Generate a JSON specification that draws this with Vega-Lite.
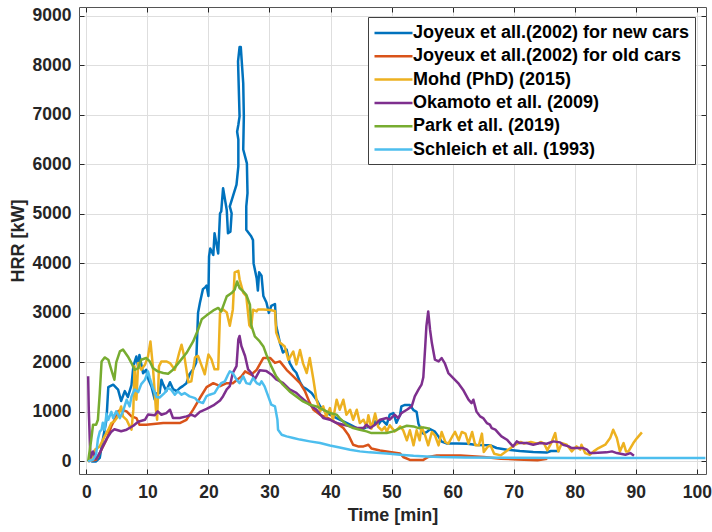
{
"$schema":"https://vega.github.io/schema/vega-lite/v6.json",
"width":627,"height":467,
"autosize":{"type":"none"},
"padding":{"left":79,"top":7,"right":6,"bottom":58},
"background":"white",
"config":{"view":{"stroke":"#555555","strokeWidth":1},"font":"Liberation Sans",
 "axis":{"labelFont":"Liberation Sans","labelFontSize":17.5,"labelFontWeight":"bold","labelColor":"#262626","titleFont":"Liberation Sans","titleFontSize":18,"titleFontWeight":"bold","titleColor":"#262626","gridColor":"#dedede","gridWidth":1,"domain":false,"tickColor":"#262626","tickSize":-5,"tickWidth":1}},
"datasets":{
"series":[{"k":"A","name":"Joyeux et all.(2002) for new cars"},{"k":"B","name":"Joyeux et all.(2002) for old cars"},{"k":"C","name":"Mohd (PhD) (2015)"},{"k":"D","name":"Okamoto et all. (2009)"},{"k":"E","name":"Park et all. (2019)"},{"k":"F","name":"Schleich et all. (1993)"}],
"pts":[
{"k":"A","t":0.8,"v":0},{"k":"A","t":1.6,"v":0},{"k":"A","t":2.2,"v":70},{"k":"A","t":2.7,"v":440},{"k":"A","t":3.0,"v":640},{"k":"A","t":3.3,"v":840},{"k":"A","t":3.6,"v":1500},{"k":"A","t":4.4,"v":1550},{"k":"A","t":5.2,"v":1450},{"k":"A","t":5.7,"v":1220},{"k":"A","t":6.3,"v":1420},{"k":"A","t":6.8,"v":1300},{"k":"A","t":7.4,"v":1540},{"k":"A","t":7.7,"v":1920},{"k":"A","t":8.2,"v":2120},{"k":"A","t":8.5,"v":1900},{"k":"A","t":8.7,"v":2150},{"k":"A","t":9.3,"v":1780},{"k":"A","t":9.8,"v":1850},{"k":"A","t":10.1,"v":1680},{"k":"A","t":10.7,"v":1500},{"k":"A","t":11.2,"v":1250},{"k":"A","t":11.5,"v":1370},{"k":"A","t":12.0,"v":1380},{"k":"A","t":12.3,"v":1650},{"k":"A","t":12.6,"v":1550},{"k":"A","t":13.1,"v":1420},{"k":"A","t":13.7,"v":1600},{"k":"A","t":14.2,"v":1460},{"k":"A","t":14.8,"v":1420},{"k":"A","t":15.3,"v":1480},{"k":"A","t":15.8,"v":1520},{"k":"A","t":16.4,"v":1580},{"k":"A","t":16.9,"v":1760},{"k":"A","t":17.5,"v":1860},{"k":"A","t":18.0,"v":2000},{"k":"A","t":18.3,"v":3000},{"k":"A","t":18.6,"v":3200},{"k":"A","t":19.1,"v":3480},{"k":"A","t":19.5,"v":3520},{"k":"A","t":19.7,"v":3550},{"k":"A","t":20.0,"v":3340},{"k":"A","t":20.1,"v":4140},{"k":"A","t":20.3,"v":4300},{"k":"A","t":20.8,"v":4170},{"k":"A","t":21.0,"v":4610},{"k":"A","t":21.6,"v":4200},{"k":"A","t":21.9,"v":5010},{"k":"A","t":22.1,"v":5050},{"k":"A","t":22.4,"v":5520},{"k":"A","t":23.0,"v":5080},{"k":"A","t":23.2,"v":4610},{"k":"A","t":23.6,"v":4640},{"k":"A","t":23.8,"v":5010},{"k":"A","t":23.5,"v":5150},{"k":"A","t":24.6,"v":5590},{"k":"A","t":24.9,"v":5960},{"k":"A","t":24.9,"v":6500},{"k":"A","t":24.7,"v":6660},{"k":"A","t":24.9,"v":6800},{"k":"A","t":25.1,"v":6970},{"k":"A","t":24.85,"v":8080},{"k":"A","t":25.1,"v":8370},{"k":"A","t":25.3,"v":8370},{"k":"A","t":25.7,"v":7640},{"k":"A","t":25.8,"v":6970},{"k":"A","t":25.7,"v":6300},{"k":"A","t":26.3,"v":6020},{"k":"A","t":26.4,"v":5420},{"k":"A","t":26.2,"v":5150},{"k":"A","t":26.2,"v":4680},{"k":"A","t":27.0,"v":4550},{"k":"A","t":27.3,"v":4470},{"k":"A","t":27.4,"v":4000},{"k":"A","t":27.9,"v":3700},{"k":"A","t":28.1,"v":3450},{"k":"A","t":28.3,"v":3820},{"k":"A","t":28.7,"v":3750},{"k":"A","t":29.0,"v":3340},{"k":"A","t":29.5,"v":3210},{"k":"A","t":29.9,"v":3000},{"k":"A","t":30.3,"v":3140},{"k":"A","t":30.9,"v":3180},{"k":"A","t":31.1,"v":2740},{"k":"A","t":31.7,"v":2400},{"k":"A","t":32.2,"v":2200},{"k":"A","t":32.8,"v":2260},{"k":"A","t":33.3,"v":1990},{"k":"A","t":33.9,"v":1860},{"k":"A","t":34.4,"v":1790},{"k":"A","t":35.0,"v":1600},{"k":"A","t":35.5,"v":1500},{"k":"A","t":36.1,"v":1460},{"k":"A","t":36.9,"v":1380},{"k":"A","t":37.7,"v":1246},{"k":"A","t":38.3,"v":1111},{"k":"A","t":39.1,"v":1010},{"k":"A","t":39.9,"v":943},{"k":"A","t":41.0,"v":875},{"k":"A","t":42.1,"v":808},{"k":"A","t":43.2,"v":741},{"k":"A","t":44.3,"v":673},{"k":"A","t":45.1,"v":640},{"k":"A","t":45.9,"v":690},{"k":"A","t":46.7,"v":700},{"k":"A","t":47.3,"v":808},{"k":"A","t":47.8,"v":741},{"k":"A","t":48.4,"v":842},{"k":"A","t":49.2,"v":741},{"k":"A","t":49.7,"v":943},{"k":"A","t":50.3,"v":976},{"k":"A","t":50.8,"v":780},{"k":"A","t":51.4,"v":943},{"k":"A","t":51.6,"v":1111},{"k":"A","t":52.2,"v":1140},{"k":"A","t":53.0,"v":1140},{"k":"A","t":53.6,"v":1034},{"k":"A","t":54.1,"v":1000},{"k":"A","t":54.4,"v":760},{"k":"A","t":54.9,"v":620},{"k":"A","t":55.2,"v":560},{"k":"A","t":55.8,"v":595},{"k":"A","t":56.3,"v":650},{"k":"A","t":57.1,"v":600},{"k":"A","t":57.7,"v":500},{"k":"A","t":58.2,"v":400},{"k":"A","t":59.1,"v":360},{"k":"A","t":60.7,"v":360},{"k":"A","t":62.4,"v":355},{"k":"A","t":64.0,"v":330},{"k":"A","t":66.2,"v":325},{"k":"A","t":67.2,"v":270},{"k":"A","t":68.9,"v":236},{"k":"A","t":71.0,"v":210},{"k":"A","t":73.2,"v":190},{"k":"A","t":75.4,"v":180},{"k":"A","t":76.1,"v":209},{"k":"A","t":77.5,"v":209},
{"k":"B","t":0.3,"v":0},{"k":"B","t":1.6,"v":30},{"k":"B","t":2.2,"v":170},{"k":"B","t":3.3,"v":440},{"k":"B","t":4.1,"v":710},{"k":"B","t":4.9,"v":910},{"k":"B","t":5.2,"v":1010},{"k":"B","t":5.7,"v":1045},{"k":"B","t":6.6,"v":1010},{"k":"B","t":7.4,"v":910},{"k":"B","t":8.2,"v":875},{"k":"B","t":8.7,"v":740},{"k":"B","t":9.8,"v":740},{"k":"B","t":12.6,"v":775},{"k":"B","t":15.3,"v":775},{"k":"B","t":16.4,"v":840},{"k":"B","t":17.5,"v":1045},{"k":"B","t":18.6,"v":1280},{"k":"B","t":19.7,"v":1500},{"k":"B","t":20.8,"v":1580},{"k":"B","t":21.9,"v":1520},{"k":"B","t":23.0,"v":1580},{"k":"B","t":24.0,"v":1580},{"k":"B","t":25.4,"v":1717},{"k":"B","t":26.0,"v":1818},{"k":"B","t":27.0,"v":1750},{"k":"B","t":27.9,"v":1850},{"k":"B","t":29.0,"v":2090},{"k":"B","t":30.1,"v":2090},{"k":"B","t":30.9,"v":1990},{"k":"B","t":31.7,"v":2020},{"k":"B","t":32.8,"v":1850},{"k":"B","t":33.9,"v":1717},{"k":"B","t":35.0,"v":1580},{"k":"B","t":35.8,"v":1420},{"k":"B","t":36.6,"v":1180},{"k":"B","t":37.2,"v":1045},{"k":"B","t":38.3,"v":940},{"k":"B","t":39.6,"v":875},{"k":"B","t":41.0,"v":775},{"k":"B","t":42.1,"v":675},{"k":"B","t":42.9,"v":540},{"k":"B","t":43.7,"v":337},{"k":"B","t":44.5,"v":303},{"k":"B","t":45.4,"v":303},{"k":"B","t":46.2,"v":337},{"k":"B","t":46.7,"v":260},{"k":"B","t":48.1,"v":220},{"k":"B","t":49.7,"v":190},{"k":"B","t":51.4,"v":160},{"k":"B","t":51.9,"v":88},{"k":"B","t":53.0,"v":30},{"k":"B","t":55.2,"v":30},{"k":"B","t":56.0,"v":88},{"k":"B","t":57.4,"v":120},{"k":"B","t":61.3,"v":120},{"k":"B","t":65.1,"v":88},{"k":"B","t":67.9,"v":54},{"k":"B","t":70.6,"v":40},{"k":"B","t":73.9,"v":25},{"k":"B","t":75.5,"v":54},
{"k":"C","t":0.3,"v":0},{"k":"C","t":1.1,"v":100},{"k":"C","t":1.4,"v":235},{"k":"C","t":2.2,"v":303},{"k":"C","t":3.0,"v":505},{"k":"C","t":3.6,"v":640},{"k":"C","t":4.1,"v":775},{"k":"C","t":4.6,"v":808},{"k":"C","t":5.2,"v":910},{"k":"C","t":5.7,"v":1110},{"k":"C","t":6.0,"v":910},{"k":"C","t":6.6,"v":840},{"k":"C","t":7.1,"v":707},{"k":"C","t":7.4,"v":640},{"k":"C","t":7.7,"v":1045},{"k":"C","t":7.9,"v":1920},{"k":"C","t":8.2,"v":1245},{"k":"C","t":8.5,"v":1986},{"k":"C","t":9.0,"v":1850},{"k":"C","t":9.6,"v":1950},{"k":"C","t":10.1,"v":2120},{"k":"C","t":10.5,"v":2424},{"k":"C","t":10.9,"v":1920},{"k":"C","t":11.4,"v":1045},{"k":"C","t":11.6,"v":840},{"k":"C","t":11.9,"v":1920},{"k":"C","t":12.3,"v":2020},{"k":"C","t":13.1,"v":2020},{"k":"C","t":13.7,"v":1986},{"k":"C","t":14.5,"v":1850},{"k":"C","t":15.2,"v":2190},{"k":"C","t":15.6,"v":2357},{"k":"C","t":16.1,"v":2090},{"k":"C","t":16.7,"v":1600},{"k":"C","t":17.2,"v":1616},{"k":"C","t":17.8,"v":2100},{"k":"C","t":18.3,"v":2130},{"k":"C","t":18.9,"v":1930},{"k":"C","t":19.4,"v":1760},{"k":"C","t":20.0,"v":2160},{"k":"C","t":20.5,"v":2060},{"k":"C","t":21.0,"v":1860},{"k":"C","t":21.6,"v":1860},{"k":"C","t":21.9,"v":3010},{"k":"C","t":22.4,"v":3070},{"k":"C","t":23.0,"v":3010},{"k":"C","t":23.5,"v":2740},{"k":"C","t":24.0,"v":3070},{"k":"C","t":24.3,"v":3820},{"k":"C","t":24.9,"v":3850},{"k":"C","t":25.1,"v":3680},{"k":"C","t":25.7,"v":3410},{"k":"C","t":26.2,"v":3340},{"k":"C","t":26.7,"v":2750},{"k":"C","t":27.0,"v":2700},{"k":"C","t":27.3,"v":3064},{"k":"C","t":27.9,"v":3030},{"k":"C","t":28.1,"v":3070},{"k":"C","t":29.0,"v":3070},{"k":"C","t":30.1,"v":3060},{"k":"C","t":30.9,"v":3040},{"k":"C","t":31.1,"v":2600},{"k":"C","t":31.7,"v":2400},{"k":"C","t":32.5,"v":2320},{"k":"C","t":33.1,"v":2050},{"k":"C","t":33.9,"v":2220},{"k":"C","t":34.4,"v":1960},{"k":"C","t":35.0,"v":2250},{"k":"C","t":35.5,"v":1980},{"k":"C","t":36.1,"v":1785},{"k":"C","t":36.6,"v":2088},{"k":"C","t":37.2,"v":1650},{"k":"C","t":37.7,"v":1246},{"k":"C","t":38.3,"v":1010},{"k":"C","t":38.8,"v":1111},{"k":"C","t":39.3,"v":909},{"k":"C","t":39.9,"v":1077},{"k":"C","t":40.4,"v":842},{"k":"C","t":41.0,"v":1246},{"k":"C","t":41.5,"v":1044},{"k":"C","t":42.1,"v":1246},{"k":"C","t":42.6,"v":943},{"k":"C","t":43.2,"v":1044},{"k":"C","t":43.7,"v":842},{"k":"C","t":44.3,"v":1044},{"k":"C","t":44.8,"v":774},{"k":"C","t":45.4,"v":842},{"k":"C","t":45.9,"v":707},{"k":"C","t":46.2,"v":932},{"k":"C","t":46.7,"v":662},{"k":"C","t":47.3,"v":966},{"k":"C","t":47.8,"v":696},{"k":"C","t":48.4,"v":628},{"k":"C","t":48.9,"v":696},{"k":"C","t":49.2,"v":595},{"k":"C","t":49.7,"v":730},{"k":"C","t":50.5,"v":606},{"k":"C","t":50.8,"v":628},{"k":"C","t":51.4,"v":707},{"k":"C","t":51.9,"v":628},{"k":"C","t":52.5,"v":426},{"k":"C","t":53.0,"v":628},{"k":"C","t":53.6,"v":324},{"k":"C","t":54.1,"v":628},{"k":"C","t":54.6,"v":426},{"k":"C","t":54.9,"v":696},{"k":"C","t":55.5,"v":527},{"k":"C","t":56.0,"v":324},{"k":"C","t":56.6,"v":595},{"k":"C","t":57.1,"v":527},{"k":"C","t":57.7,"v":324},{"k":"C","t":58.2,"v":595},{"k":"C","t":58.8,"v":392},{"k":"C","t":59.3,"v":358},{"k":"C","t":59.9,"v":493},{"k":"C","t":60.4,"v":595},{"k":"C","t":61.0,"v":426},{"k":"C","t":61.5,"v":595},{"k":"C","t":62.1,"v":561},{"k":"C","t":62.6,"v":358},{"k":"C","t":63.2,"v":595},{"k":"C","t":63.7,"v":324},{"k":"C","t":64.3,"v":324},{"k":"C","t":64.8,"v":561},{"k":"C","t":65.1,"v":189},{"k":"C","t":65.7,"v":290},{"k":"C","t":66.2,"v":324},{"k":"C","t":66.8,"v":155},{"k":"C","t":67.9,"v":122},{"k":"C","t":69.0,"v":223},{"k":"C","t":70.1,"v":324},{"k":"C","t":71.2,"v":392},{"k":"C","t":71.7,"v":358},{"k":"C","t":72.8,"v":392},{"k":"C","t":73.9,"v":358},{"k":"C","t":74.5,"v":392},{"k":"C","t":75.0,"v":358},{"k":"C","t":75.5,"v":223},{"k":"C","t":76.1,"v":358},{"k":"C","t":76.8,"v":572},{"k":"C","t":77.3,"v":202},{"k":"C","t":77.9,"v":370},{"k":"C","t":78.7,"v":337},{"k":"C","t":79.5,"v":202},{"k":"C","t":80.3,"v":303},{"k":"C","t":80.9,"v":236},{"k":"C","t":81.1,"v":337},{"k":"C","t":81.7,"v":168},{"k":"C","t":82.5,"v":135},{"k":"C","t":83.1,"v":202},{"k":"C","t":83.9,"v":269},{"k":"C","t":85.0,"v":337},{"k":"C","t":85.8,"v":471},{"k":"C","t":86.3,"v":640},{"k":"C","t":86.9,"v":471},{"k":"C","t":87.4,"v":202},{"k":"C","t":88.0,"v":370},{"k":"C","t":88.4,"v":202},{"k":"C","t":88.8,"v":202},{"k":"C","t":89.6,"v":370},{"k":"C","t":90.2,"v":471},{"k":"C","t":91.0,"v":586},
{"k":"D","t":0.3,"v":1720},{"k":"D","t":0.4,"v":1050},{"k":"D","t":0.6,"v":300},{"k":"D","t":0.7,"v":80},{"k":"D","t":1.1,"v":200},{"k":"D","t":1.6,"v":50},{"k":"D","t":2.2,"v":170},{"k":"D","t":2.7,"v":300},{"k":"D","t":3.3,"v":450},{"k":"D","t":4.1,"v":600},{"k":"D","t":4.6,"v":650},{"k":"D","t":5.7,"v":610},{"k":"D","t":6.6,"v":640},{"k":"D","t":7.7,"v":720},{"k":"D","t":8.5,"v":800},{"k":"D","t":9.6,"v":840},{"k":"D","t":10.1,"v":946},{"k":"D","t":11.2,"v":930},{"k":"D","t":11.7,"v":1010},{"k":"D","t":12.3,"v":943},{"k":"D","t":13.1,"v":976},{"k":"D","t":13.7,"v":1044},{"k":"D","t":14.2,"v":875},{"k":"D","t":15.3,"v":875},{"k":"D","t":16.4,"v":909},{"k":"D","t":17.2,"v":943},{"k":"D","t":17.8,"v":909},{"k":"D","t":18.6,"v":1000},{"k":"D","t":19.7,"v":1060},{"k":"D","t":20.8,"v":1130},{"k":"D","t":21.9,"v":1230},{"k":"D","t":22.4,"v":1317},{"k":"D","t":23.0,"v":1453},{"k":"D","t":23.5,"v":1520},{"k":"D","t":24.0,"v":1790},{"k":"D","t":24.6,"v":1925},{"k":"D","t":24.9,"v":2466},{"k":"D","t":25.1,"v":2534},{"k":"D","t":25.4,"v":2331},{"k":"D","t":26.0,"v":2128},{"k":"D","t":26.5,"v":1858},{"k":"D","t":27.0,"v":1790},{"k":"D","t":27.6,"v":1655},{"k":"D","t":28.4,"v":1840},{"k":"D","t":29.5,"v":1824},{"k":"D","t":30.3,"v":1757},{"k":"D","t":31.1,"v":1655},{"k":"D","t":32.2,"v":1588},{"k":"D","t":33.3,"v":1453},{"k":"D","t":34.4,"v":1385},{"k":"D","t":35.0,"v":1313},{"k":"D","t":36.6,"v":1145},{"k":"D","t":37.7,"v":1044},{"k":"D","t":38.8,"v":875},{"k":"D","t":39.9,"v":842},{"k":"D","t":41.0,"v":774},{"k":"D","t":42.1,"v":741},{"k":"D","t":43.2,"v":707},{"k":"D","t":44.3,"v":673},{"k":"D","t":45.4,"v":673},{"k":"D","t":45.9,"v":741},{"k":"D","t":46.5,"v":673},{"k":"D","t":47.3,"v":741},{"k":"D","t":48.1,"v":842},{"k":"D","t":49.2,"v":875},{"k":"D","t":49.7,"v":842},{"k":"D","t":50.5,"v":943},{"k":"D","t":51.1,"v":875},{"k":"D","t":51.6,"v":976},{"k":"D","t":52.5,"v":1044},{"k":"D","t":53.3,"v":1111},{"k":"D","t":53.8,"v":1313},{"k":"D","t":54.4,"v":1448},{"k":"D","t":54.9,"v":1549},{"k":"D","t":55.2,"v":1700},{"k":"D","t":55.5,"v":2300},{"k":"D","t":55.7,"v":2727},{"k":"D","t":56.0,"v":3030},{"k":"D","t":56.3,"v":2660},{"k":"D","t":56.6,"v":2390},{"k":"D","t":56.8,"v":2256},{"k":"D","t":57.1,"v":2054},{"k":"D","t":57.7,"v":2020},{"k":"D","t":58.2,"v":2088},{"k":"D","t":58.7,"v":1987},{"k":"D","t":59.3,"v":1785},{"k":"D","t":60.1,"v":1684},{"k":"D","t":60.9,"v":1582},{"k":"D","t":61.7,"v":1448},{"k":"D","t":62.6,"v":1246},{"k":"D","t":63.1,"v":1178},{"k":"D","t":63.4,"v":1246},{"k":"D","t":63.9,"v":1010},{"k":"D","t":64.5,"v":909},{"k":"D","t":65.0,"v":875},{"k":"D","t":65.6,"v":774},{"k":"D","t":66.1,"v":741},{"k":"D","t":66.4,"v":673},{"k":"D","t":67.0,"v":640},{"k":"D","t":67.5,"v":572},{"k":"D","t":68.0,"v":505},{"k":"D","t":68.9,"v":438},{"k":"D","t":69.4,"v":370},{"k":"D","t":69.9,"v":300},{"k":"D","t":70.5,"v":404},{"k":"D","t":71.0,"v":370},{"k":"D","t":72.1,"v":370},{"k":"D","t":73.2,"v":337},{"k":"D","t":74.3,"v":370},{"k":"D","t":75.4,"v":357},{"k":"D","t":76.5,"v":404},{"k":"D","t":77.6,"v":384},{"k":"D","t":78.1,"v":337},{"k":"D","t":79.0,"v":303},{"k":"D","t":79.5,"v":269},{"k":"D","t":81.4,"v":269},{"k":"D","t":82.0,"v":236},{"k":"D","t":82.5,"v":168},{"k":"D","t":83.1,"v":168},{"k":"D","t":85.2,"v":182},{"k":"D","t":86.1,"v":202},{"k":"D","t":86.9,"v":168},{"k":"D","t":88.3,"v":135},{"k":"D","t":89.1,"v":168},{"k":"D","t":89.7,"v":114},
{"k":"E","t":0.3,"v":0},{"k":"E","t":0.8,"v":437},{"k":"E","t":1.1,"v":740},{"k":"E","t":1.6,"v":740},{"k":"E","t":1.9,"v":842},{"k":"E","t":2.2,"v":1380},{"k":"E","t":2.5,"v":2020},{"k":"E","t":3.0,"v":2100},{"k":"E","t":3.6,"v":2054},{"k":"E","t":4.1,"v":1850},{"k":"E","t":4.6,"v":1650},{"k":"E","t":4.9,"v":2000},{"k":"E","t":5.5,"v":2222},{"k":"E","t":6.0,"v":2260},{"k":"E","t":6.8,"v":2120},{"k":"E","t":7.4,"v":1987},{"k":"E","t":7.9,"v":1850},{"k":"E","t":8.5,"v":1885},{"k":"E","t":9.0,"v":2054},{"k":"E","t":9.8,"v":2088},{"k":"E","t":10.4,"v":2020},{"k":"E","t":10.9,"v":1885},{"k":"E","t":11.7,"v":1818},{"k":"E","t":12.6,"v":1785},{"k":"E","t":13.4,"v":1770},{"k":"E","t":14.2,"v":1850},{"k":"E","t":15.3,"v":2020},{"k":"E","t":16.4,"v":2188},{"k":"E","t":17.5,"v":2424},{"k":"E","t":18.3,"v":2660},{"k":"E","t":18.9,"v":2870},{"k":"E","t":19.7,"v":2950},{"k":"E","t":20.8,"v":3050},{"k":"E","t":21.6,"v":3100},{"k":"E","t":22.1,"v":3030},{"k":"E","t":23.0,"v":3333},{"k":"E","t":23.8,"v":3400},{"k":"E","t":24.3,"v":3468},{"k":"E","t":24.7,"v":3636},{"k":"E","t":25.1,"v":3502},{"k":"E","t":25.7,"v":3434},{"k":"E","t":26.2,"v":3367},{"k":"E","t":26.8,"v":3165},{"k":"E","t":27.0,"v":2760},{"k":"E","t":27.6,"v":2525},{"k":"E","t":28.4,"v":2424},{"k":"E","t":29.0,"v":2323},{"k":"E","t":29.5,"v":2155},{"k":"E","t":30.3,"v":1919},{"k":"E","t":31.1,"v":1717},{"k":"E","t":32.2,"v":1549},{"k":"E","t":33.3,"v":1414},{"k":"E","t":34.4,"v":1313},{"k":"E","t":35.5,"v":1212},{"k":"E","t":36.6,"v":1145},{"k":"E","t":37.7,"v":1111},{"k":"E","t":38.8,"v":1044},{"k":"E","t":39.9,"v":976},{"k":"E","t":41.0,"v":943},{"k":"E","t":41.5,"v":875},{"k":"E","t":42.6,"v":741},{"k":"E","t":43.7,"v":673},{"k":"E","t":44.8,"v":640},{"k":"E","t":45.9,"v":606},{"k":"E","t":46.7,"v":572},{"k":"E","t":48.1,"v":572},{"k":"E","t":49.2,"v":572},{"k":"E","t":50.3,"v":606},{"k":"E","t":51.4,"v":673},{"k":"E","t":52.5,"v":720},{"k":"E","t":53.6,"v":707},{"k":"E","t":54.4,"v":673},{"k":"E","t":55.2,"v":687},{"k":"E","t":56.3,"v":660},
{"k":"F","t":0.3,"v":0},{"k":"F","t":1.1,"v":34},{"k":"F","t":1.6,"v":135},{"k":"F","t":1.9,"v":450},{"k":"F","t":2.2,"v":600},{"k":"F","t":2.5,"v":640},{"k":"F","t":2.7,"v":780},{"k":"F","t":3.0,"v":640},{"k":"F","t":3.3,"v":960},{"k":"F","t":3.6,"v":842},{"k":"F","t":4.1,"v":1000},{"k":"F","t":4.4,"v":875},{"k":"F","t":4.9,"v":1010},{"k":"F","t":5.5,"v":875},{"k":"F","t":6.0,"v":1010},{"k":"F","t":6.6,"v":1245},{"k":"F","t":7.1,"v":1111},{"k":"F","t":7.4,"v":1313},{"k":"F","t":7.9,"v":1450},{"k":"F","t":8.5,"v":1400},{"k":"F","t":9.0,"v":1560},{"k":"F","t":9.6,"v":1650},{"k":"F","t":10.1,"v":1818},{"k":"F","t":10.4,"v":1683},{"k":"F","t":10.9,"v":1481},{"k":"F","t":11.5,"v":1300},{"k":"F","t":12.0,"v":1290},{"k":"F","t":12.8,"v":1380},{"k":"F","t":13.4,"v":1481},{"k":"F","t":13.9,"v":1448},{"k":"F","t":14.5,"v":1347},{"k":"F","t":15.0,"v":1414},{"k":"F","t":15.6,"v":1347},{"k":"F","t":16.1,"v":1380},{"k":"F","t":16.9,"v":1313},{"k":"F","t":17.8,"v":1279},{"k":"F","t":18.3,"v":1212},{"k":"F","t":19.1,"v":1178},{"k":"F","t":19.7,"v":1320},{"k":"F","t":20.2,"v":1347},{"k":"F","t":21.0,"v":1380},{"k":"F","t":21.6,"v":1500},{"k":"F","t":22.1,"v":1582},{"k":"F","t":22.7,"v":1616},{"k":"F","t":23.2,"v":1750},{"k":"F","t":23.5,"v":1818},{"k":"F","t":24.0,"v":1785},{"k":"F","t":24.6,"v":1650},{"k":"F","t":25.1,"v":1582},{"k":"F","t":25.7,"v":1717},{"k":"F","t":26.2,"v":1582},{"k":"F","t":26.8,"v":1560},{"k":"F","t":27.3,"v":1683},{"k":"F","t":27.9,"v":1582},{"k":"F","t":28.4,"v":1549},{"k":"F","t":28.7,"v":1616},{"k":"F","t":29.2,"v":1515},{"k":"F","t":29.8,"v":1313},{"k":"F","t":30.3,"v":1145},{"k":"F","t":30.9,"v":1111},{"k":"F","t":31.3,"v":842},{"k":"F","t":31.4,"v":640},{"k":"F","t":32.0,"v":539},{"k":"F","t":32.8,"v":505},{"k":"F","t":33.9,"v":471},{"k":"F","t":35.0,"v":440},{"k":"F","t":36.6,"v":404},{"k":"F","t":38.3,"v":370},{"k":"F","t":39.9,"v":320},{"k":"F","t":41.5,"v":280},{"k":"F","t":43.2,"v":236},{"k":"F","t":44.8,"v":202},{"k":"F","t":46.4,"v":182},{"k":"F","t":48.1,"v":168},{"k":"F","t":49.7,"v":155},{"k":"F","t":51.4,"v":135},{"k":"F","t":53.6,"v":114},{"k":"F","t":55.7,"v":100},{"k":"F","t":57.9,"v":88},{"k":"F","t":62.0,"v":80},{"k":"F","t":70.0,"v":72},{"k":"F","t":80.0,"v":70},{"k":"F","t":90.0,"v":70},{"k":"F","t":101.4,"v":70}
]},
"resolve":{"axis":{"x":"independent","y":"independent"}},
"layer":[
{"data":{"name":"pts"},
 "transform":[{"lookup":"k","from":{"data":{"name":"series"},"key":"k","fields":["name"]}}],
 "mark":{"type":"line","strokeWidth":2.5,"clip":true,"strokeJoin":"round"},
 "encoding":{
  "x":{"field":"t","type":"quantitative","scale":{"domain":[-1.2,101.5],"nice":false,"zero":false},
   "axis":{"title":"Time [min]","values":[0,10,20,30,40,50,60,70,80,90,100],"labelPadding":14,"titlePadding":6,"labelFlush":false}},
  "y":{"field":"v","type":"quantitative","scale":{"domain":[-255,9180],"nice":false,"zero":false},
   "axis":{"title":"HRR [kW]","format":"d","values":[0,1000,2000,3000,4000,5000,6000,7000,8000,9000],"labelPadding":13,"titlePadding":5,"labelFlush":false}},
  "color":{"field":"name","type":"nominal",
   "scale":{"domain":["Joyeux et all.(2002) for new cars","Joyeux et all.(2002) for old cars","Mohd (PhD) (2015)","Okamoto et all. (2009)","Park et all. (2019)","Schleich et all. (1993)"],
    "range":["#0072BD","#D95319","#EDB120","#7E2F8E","#77AC30","#4DBEEE"]},
   "legend":{"orient":"none","legendX":289,"legendY":10,"title":null,"symbolType":"M-2,0H2","symbolSize":361,"symbolOffset":9.5,"symbolStrokeWidth":2.5,"labelFont":"Liberation Sans","labelFontSize":18,"labelFontWeight":"bold","labelColor":"#000000","labelOffset":8.5,"rowPadding":3.3,"padding":5,"strokeColor":"#404040","fillColor":"white","labelLimit":400,"cornerRadius":0}},
  "order":{"value":null}}},
{"data":{"name":"pts"},
 "mark":{"type":"point","opacity":0},
 "encoding":{
  "x":{"field":"t","type":"quantitative","scale":{"domain":[-1.2,101.5],"nice":false,"zero":false},
   "axis":{"orient":"top","title":null,"labels":false,"grid":false,"values":[0,10,20,30,40,50,60,70,80,90,100]}},
  "y":{"field":"v","type":"quantitative","scale":{"domain":[-255,9180],"nice":false,"zero":false},
   "axis":{"orient":"right","title":null,"labels":false,"grid":false,"values":[0,1000,2000,3000,4000,5000,6000,7000,8000,9000]}}}}
]
}
